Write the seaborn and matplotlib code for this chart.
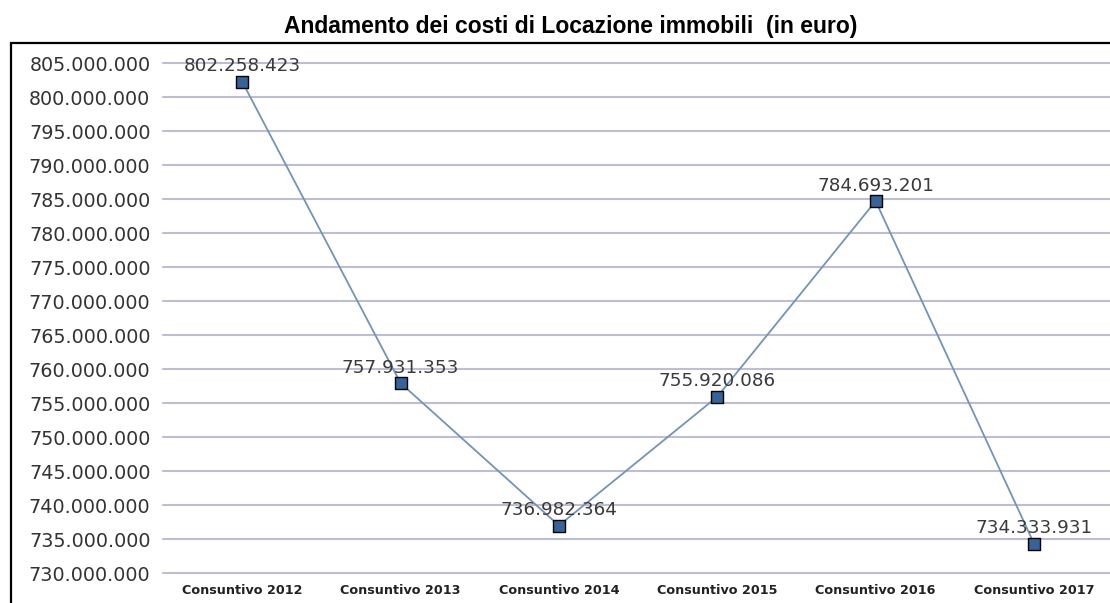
import matplotlib
matplotlib.use('Agg')
import matplotlib.pyplot as plt
from matplotlib.patches import Rectangle
from matplotlib.ticker import FuncFormatter, MultipleLocator
import seaborn as sns

# data
CATEGORIES = ["Consuntivo 2012", "Consuntivo 2013", "Consuntivo 2014",
              "Consuntivo 2015", "Consuntivo 2016", "Consuntivo 2017"]
VALUES = [802258423, 757931353, 736982364, 755920086, 784693201, 734333931]
TITLE = "Andamento dei costi di Locazione immobili  (in euro)"

LINE_COLOR = '#7393b8'
MARKER_COLOR = '#36639a'
GRID_COLOR = '#bdbdd4'


def it_fmt(v, pos=None):
    return f"{v:,.0f}".replace(',', '.')


sns.set_theme(style="white")
plt.rcParams['font.family'] = ['DejaVu Sans']

fig = plt.figure(figsize=(11.1, 6.03), dpi=100)
ax = fig.add_axes([163 / 1110, 30 / 603, 947 / 1110, 510 / 603])

sns.lineplot(x=CATEGORIES, y=VALUES, sort=False, color=LINE_COLOR, linewidth=1.3, ax=ax)
sns.scatterplot(x=CATEGORIES, y=VALUES, marker='s', s=70, color=MARKER_COLOR,
                edgecolor='black', linewidth=1.0, zorder=4, ax=ax)

for i, v in enumerate(VALUES):
    ax.annotate(it_fmt(v), (i, v), xytext=(0, 11), textcoords='offset points',
                ha='center', va='center', fontsize=13.2, color='#3a3a3a',
                annotation_clip=False, zorder=5)

ax.set_ylim(730_000_000, 805_000_000)
ax.set_xlim(-0.5, 5.48)
ax.yaxis.set_major_locator(MultipleLocator(5_000_000))
ax.yaxis.set_major_formatter(FuncFormatter(it_fmt))
ax.grid(axis='y', color=GRID_COLOR, linewidth=1.5)
ax.grid(axis='x', visible=False)
ax.set_axisbelow(True)
for gl in ax.get_ygridlines():
    gl.set_clip_on(False)
for s in ax.spines.values():
    s.set_visible(False)
ax.tick_params(axis='y', length=0, pad=9, labelsize=13.8, labelcolor='#333333')
ax.tick_params(axis='x', length=0, pad=8, labelsize=9.2, labelcolor='#222222')
for lbl in ax.get_xticklabels():
    lbl.set_fontweight('bold')
ax.set_xlabel('')
ax.set_ylabel('')

fig.text(571 / 1110, 1 - 26 / 603, TITLE, ha='center', va='center',
         fontsize=16.5, fontweight='bold', color='black',
         family=['Liberation Sans', 'DejaVu Sans'])

# outer frame, clipped by the image on the right and bottom
fig.add_artist(Rectangle((11 / 1110, -0.1), 1.2, 0.1 + (603 - 43) / 603,
                         transform=fig.transFigure, fill=False,
                         edgecolor='black', linewidth=1.6))

fig.savefig('out.png', dpi=100, facecolor='white')
